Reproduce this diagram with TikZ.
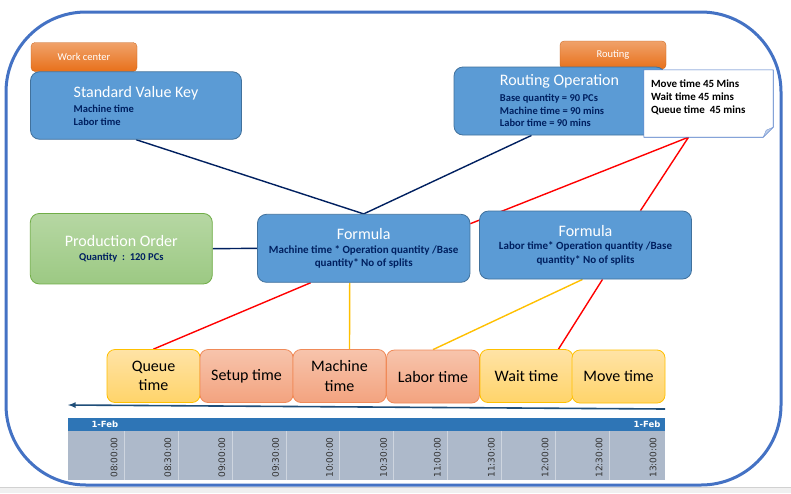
\documentclass[tikz,border=0pt]{standalone}
\usepackage{fontspec}
\setmainfont{Carlito}
\newfontfamily\tlfont{DejaVu Sans}
\usetikzlibrary{calc}

\definecolor{frameblue}{HTML}{4472C4}
\definecolor{boxblue}{HTML}{5B9BD5}
\definecolor{boxedge}{HTML}{41719C}
\definecolor{navy}{HTML}{002060}
\definecolor{taborange}{HTML}{E8701A}
\definecolor{greentop}{HTML}{B6D7A3}
\definecolor{greenbot}{HTML}{9CC983}
\definecolor{greenedge}{HTML}{70AD47}
\definecolor{yeltop}{HTML}{FFE3A6}
\definecolor{yelbot}{HTML}{FFD46A}
\definecolor{yeledge}{HTML}{FFC000}
\definecolor{saltop}{HTML}{F7C4AC}
\definecolor{salbot}{HTML}{F3A37F}
\definecolor{saledge}{HTML}{F08A58}
\definecolor{tlhead}{HTML}{2E75B6}
\definecolor{tlbody}{HTML}{ADB9CA}
\definecolor{arrowblue}{HTML}{1F4E79}

\pgfdeclarelayer{bg}
\pgfsetlayers{bg,main}

\newcommand\boxttl[1]{{\fontsize{16}{19}\mdseries\color{white}#1}}

\tikzset{
  tab/.style={rounded corners=4pt, top color=taborange!65!white, bottom color=taborange,
    draw=taborange!85!black, line width=0.3pt, minimum width=106pt, minimum height=29pt,
    text=white, font=\fontsize{10.5}{12}\selectfont},
  bluebox/.style={rounded corners=9pt, fill=boxblue, draw=boxedge, line width=0.8pt,
    text=navy, font=\fontsize{10.5}{12.5}\selectfont\bfseries},
  greenbox/.style={rounded corners=9pt, top color=greentop, bottom color=greenbot,
    draw=greenedge, line width=0.8pt, text=navy, align=center,
    font=\fontsize{10.5}{12.5}\selectfont\bfseries},
  stepyel/.style={rounded corners=8pt, top color=yeltop, bottom color=yelbot, draw=yeledge,
    line width=0.8pt, minimum width=93pt, minimum height=53pt, align=center,
    font=\fontsize{16}{19.5}\selectfont},
  stepsal/.style={stepyel, top color=saltop, bottom color=salbot, draw=saledge},
  navyline/.style={draw=navy, line width=1.4pt},
  redline/.style={draw=red, line width=1.4pt},
  yelline/.style={draw=yeledge, line width=1.4pt},
}

\begin{document}
\begin{tikzpicture}[x=1pt,y=-1pt]
  \useasboundingbox (0,0) rectangle (791,493);
  \begin{pgfonlayer}{bg}
    \fill[white] (0,0) rectangle (791,487);
    \fill[black!6] (0,487) rectangle (791,493);
    \draw[black!18, line width=0.8pt] (0,487) -- (791,487);
  \end{pgfonlayer}

  % outer frame
  \draw[frameblue, line width=3pt, rounded corners=80pt] (6,12) rectangle (781,485);

  % tabs
  \node[tab] (tabwc) at (84,57) {Work center};
  \node[tab, minimum height=28pt] (tabrt) at (613,55) {Routing};

  % boxes
  \node[bluebox, minimum width=211pt, minimum height=67.5pt, align=left] (svk) at (136,105.5)
    {\boxttl{Standard Value Key}\\[3pt] Machine time\\ Labor time};
  \node[bluebox, minimum width=211pt, minimum height=68pt, align=left] (rop) at (559.5,101)
    {\boxttl{Routing Operation}\\[3.5pt] Base quantity = 90 PCs\\ Machine time = 90 mins\\ Labor time = 90 mins};

  % note
  \node[minimum width=129pt, minimum height=67pt, inner sep=0pt] (note) at (708.5,103.5) {};
  \filldraw[fill=white, draw=frameblue, line width=0.6pt] (note.north west) -- (note.north east)
    -- ($(note.south east)+(0,-10)$) -- ($(note.south east)+(-10,0)$) -- (note.south west) -- cycle;
  \filldraw[fill=frameblue!35!white, draw=frameblue!70!white, line width=0.4pt]
    ($(note.south east)+(0,-10)$) -- ($(note.south east)+(-10,0)$) -- ($(note.south east)+(-7,-7)$) -- cycle;
  \node[anchor=north west, align=left, inner sep=0pt, font=\fontsize{11}{13}\selectfont\bfseries]
    (notetxt) at ($(note.north west)+(7,9.5)$)
    {Move time 45 Mins\\ Wait time 45 mins\\ Queue time\ \ 45 mins};

  \node[greenbox, minimum width=182pt, minimum height=70.5pt] (prodord) at (121.3,248.7)
    {\boxttl{Production Order}\\[1pt] Quantity\ \ :\ \ 120 PCs};
  \node[bluebox, minimum width=212.5pt, minimum height=68pt, align=center,
    font=\fontsize{11}{13.4}\selectfont\bfseries] (formA) at (363.7,248.3)
    {\boxttl{Formula}\\[0.5pt] Machine time * Operation quantity /Base\\ quantity* No of splits};
  \node[bluebox, minimum width=212pt, minimum height=68pt, align=center,
    font=\fontsize{11}{13.4}\selectfont\bfseries] (formB) at (585.5,245)
    {\boxttl{Formula}\\[0.5pt] Labor time* Operation quantity /Base\\ quantity* No of splits};

  % time steps
  \node[stepyel] (queue) at (153.5,376) {Queue\\ time};
  \node[stepsal] (setup) at (246.5,376) {Setup time};
  \node[stepsal] (mach) at (339.5,376) {Machine\\ time};
  \node[stepsal] (labor) at (433,376.5) {Labor time};
  \node[stepyel] (wait) at (526.5,376) {Wait time};
  \node[stepyel] (move) at (618.5,376.5) {Move time};

  \begin{pgfonlayer}{bg}
    \draw[navyline] (svk.south) -- (formA.north);
    \draw[navyline] ([xshift=-28pt]rop.south) -- (formA.north);
    \draw[navyline] (prodord.east) -- (formA.west);
    \draw[redline] ([xshift=-20pt]note.south) -- (formA.13);
    \draw[redline] ([xshift=-20pt]note.south) -- ([xshift=55pt]formB.north);
    \draw[redline] ([xshift=-53pt]formA.south) -- (queue.north);
    \draw[yelline] ([xshift=-14pt]formA.south) -- ([xshift=10pt]mach.north);
    \draw[yelline] ([xshift=-3pt]formB.south) -- (labor.north);
    \draw[redline] ([xshift=17pt]formB.south) -- ([xshift=32pt]wait.north);
  \end{pgfonlayer}

  % time axis
  \coordinate (arrR) at (665,409);
  \coordinate (arrL) at (68,405);
  \draw[arrowblue, line width=1.6pt, -latex] (arrR) -- (arrL);

  \fill[tlhead] (68,418) rectangle (665,431);
  \fill[tlbody] (68,431) rectangle (665,480);
  \foreach \i in {0,...,9}
    \draw[white!40!tlbody, line width=0.3pt] ({124+53.9*\i},431) -- ({124+53.9*\i},480);
  \node[anchor=west, text=white, font=\tlfont\fontsize{8.5}{10}\selectfont\bfseries] (febL) at (88,424.5) {1-Feb};
  \node[anchor=east, text=white, font=\tlfont\fontsize{8.5}{10}\selectfont\bfseries] (febR) at (664,424.5) {1-Feb};
  \foreach \t [count=\i from 0] in {08:00:00,08:30:00,09:00:00,09:30:00,10:00:00,10:30:00,11:00:00,11:30:00,12:00:00,12:30:00,13:00:00}
    \node[rotate=90, text=black!80, font=\tlfont\fontsize{9}{10}\selectfont] (tm\i) at ({114+53.9*\i},457.5) {\t};
\end{tikzpicture}
\end{document}
